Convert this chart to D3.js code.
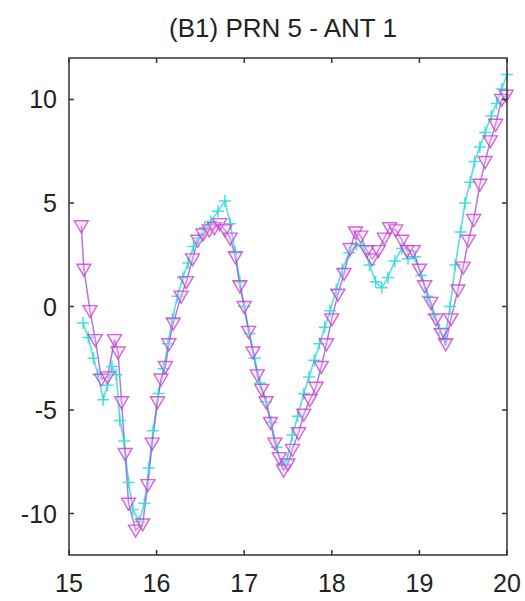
<!DOCTYPE html>
<html><head><meta charset="utf-8">
<script src="https://cdn.jsdelivr.net/npm/d3@7"></script>
<style>body{margin:0;background:#fff}svg{display:block}text{font-family:"Liberation Sans",Arial,sans-serif;fill:#222}</style>
</head><body><svg id="c" width="525" height="601"></svg>
<script>
const title = "(B1) PRN 5 - ANT 1";
const xTicks = [15,16,17,18,19,20];
const yTicks = [-10,-5,0,5,10];

const cyanX = [15.16,15.22,15.28,15.33,15.39,15.44,15.49,15.54,15.58,15.63,15.68,15.73,15.80,15.86,15.91,15.96,16.02,16.08,16.13,16.18,16.24,16.30,16.36,16.42,16.48,16.55,16.62,16.70,16.78,16.84,16.90,16.95,17.00,17.06,17.12,17.18,17.25,17.31,17.37,17.43,17.49,17.55,17.61,17.68,17.74,17.80,17.86,17.92,17.98,18.05,18.12,18.20,18.28,18.36,18.43,18.50,18.57,18.64,18.72,18.80,18.87,18.95,19.02,19.09,19.16,19.23,19.29,19.35,19.41,19.47,19.52,19.58,19.63,19.69,19.75,19.82,19.88,19.94,20.00];
const cyanY = [-0.8,-1.5,-2.5,-3.3,-4.5,-3.8,-2.9,-3.3,-5.5,-6.5,-8.5,-9.8,-10.4,-9.5,-7.8,-6.0,-4.2,-3.0,-1.8,-0.6,0.5,1.4,2.1,2.9,3.3,3.8,4.1,4.6,5.1,4.0,2.6,1.2,0.0,-1.3,-2.5,-3.7,-4.6,-5.6,-6.8,-7.6,-7.4,-6.2,-5.3,-4.2,-3.4,-2.6,-1.8,-1.0,-0.2,0.8,1.8,2.6,3.0,2.9,2.0,1.2,0.9,1.4,2.2,2.8,2.3,2.4,1.5,0.5,-0.4,-1.1,-1.6,0.0,2.0,3.6,5.0,6.0,7.0,7.7,8.4,9.2,9.8,10.5,11.2];

const magX = [15.14,15.17,15.24,15.30,15.37,15.44,15.52,15.56,15.60,15.64,15.68,15.76,15.84,15.90,15.95,16.01,16.05,16.10,16.14,16.19,16.28,16.34,16.41,16.47,16.53,16.60,16.66,16.72,16.78,16.84,16.90,16.95,17.00,17.05,17.10,17.15,17.20,17.25,17.30,17.35,17.40,17.45,17.50,17.55,17.62,17.68,17.75,17.82,17.88,17.94,18.00,18.07,18.14,18.21,18.27,18.33,18.40,18.46,18.53,18.60,18.66,18.73,18.80,18.86,18.93,19.00,19.06,19.13,19.19,19.25,19.30,19.36,19.44,19.50,19.56,19.62,19.69,19.75,19.81,19.87,19.94,19.99];
const magY = [3.9,1.8,-0.2,-1.6,-3.5,-3.4,-1.6,-2.2,-4.6,-7.1,-9.5,-10.8,-10.5,-8.6,-6.6,-4.6,-3.5,-2.9,-1.8,-0.8,0.5,1.2,2.3,3.2,3.5,3.7,3.8,4.0,3.7,3.3,2.4,1.0,0.0,-1.2,-2.2,-3.3,-4.0,-4.6,-5.6,-6.6,-7.3,-7.9,-7.6,-6.9,-6.1,-5.2,-4.5,-3.9,-2.9,-1.8,-0.6,0.6,1.6,2.8,3.6,3.4,2.7,2.3,2.7,3.3,3.8,3.7,3.2,2.7,2.7,1.8,1.0,0.2,-0.6,-1.3,-1.8,-0.6,0.8,1.9,3.2,4.2,5.9,7.0,8.0,8.8,10.0,10.2];

const svg = d3.select("#c");
const L=69,R=507,T=58,B=555;
const x = d3.scaleLinear().domain([15,20]).range([L,R]);
const y = d3.scaleLinear().domain([-12,12]).range([B,T]);

svg.append("text").attr("x",283).attr("y",37).attr("text-anchor","middle")
  .attr("font-size",26).attr("fill","#333").text(title);

const cyanCol="#35dcdc", magCol="#cc3dd0";
const cData = cyanX.map((v,i)=>[v,cyanY[i]]);
const mData = magX.map((v,i)=>[v,magY[i]]);
const line = d3.line().x(d=>x(d[0])).y(d=>y(d[1]));

const g = svg.append("g");
g.append("path").datum(cData).attr("d",line).attr("fill","none").attr("stroke",cyanCol).attr("stroke-width",1.6).attr("opacity",0.85);
g.append("path").datum(mData).attr("d",line).attr("fill","none").attr("stroke","#9a4ad8").attr("stroke-width",1.5).attr("opacity",0.75);

g.selectAll(".cp").data(cData).join("path")
  .attr("transform",d=>`translate(${x(d[0])},${y(d[1])})`)
  .attr("d","M-6,0H6M0,-6V6").attr("stroke",cyanCol).attr("stroke-width",1.5).attr("fill","none").attr("opacity",0.9);
g.selectAll(".mt").data(mData).join("path")
  .attr("transform",d=>`translate(${x(d[0])},${y(d[1])})`)
  .attr("d","M-7,-5H7L0,7Z").attr("stroke",magCol).attr("stroke-width",1.4).attr("fill","#f0c8f0").attr("fill-opacity",0.4).attr("opacity",0.8);

// box and ticks
const ax = svg.append("g").attr("stroke","#333").attr("stroke-width",1.5);
ax.append("rect").attr("x",L).attr("y",T).attr("width",R-L).attr("height",B-T).attr("fill","none");
ax.selectAll(".xt").data(xTicks).join("path").attr("d",d=>`M${x(d)},${B}v-5M${x(d)},${T}v5`);
ax.selectAll(".yt").data(yTicks).join("path").attr("d",d=>`M${L},${y(d)}h5M${R},${y(d)}h-5`);

svg.selectAll(".xl").data(xTicks).join("text").attr("x",d=>x(d)).attr("y",592)
  .attr("text-anchor","middle").attr("font-size",25).text(d=>d);
svg.selectAll(".yl").data(yTicks).join("text").attr("x",57).attr("y",d=>y(d)+9)
  .attr("text-anchor","end").attr("font-size",25).text(d=>d);
</script></body></html>
